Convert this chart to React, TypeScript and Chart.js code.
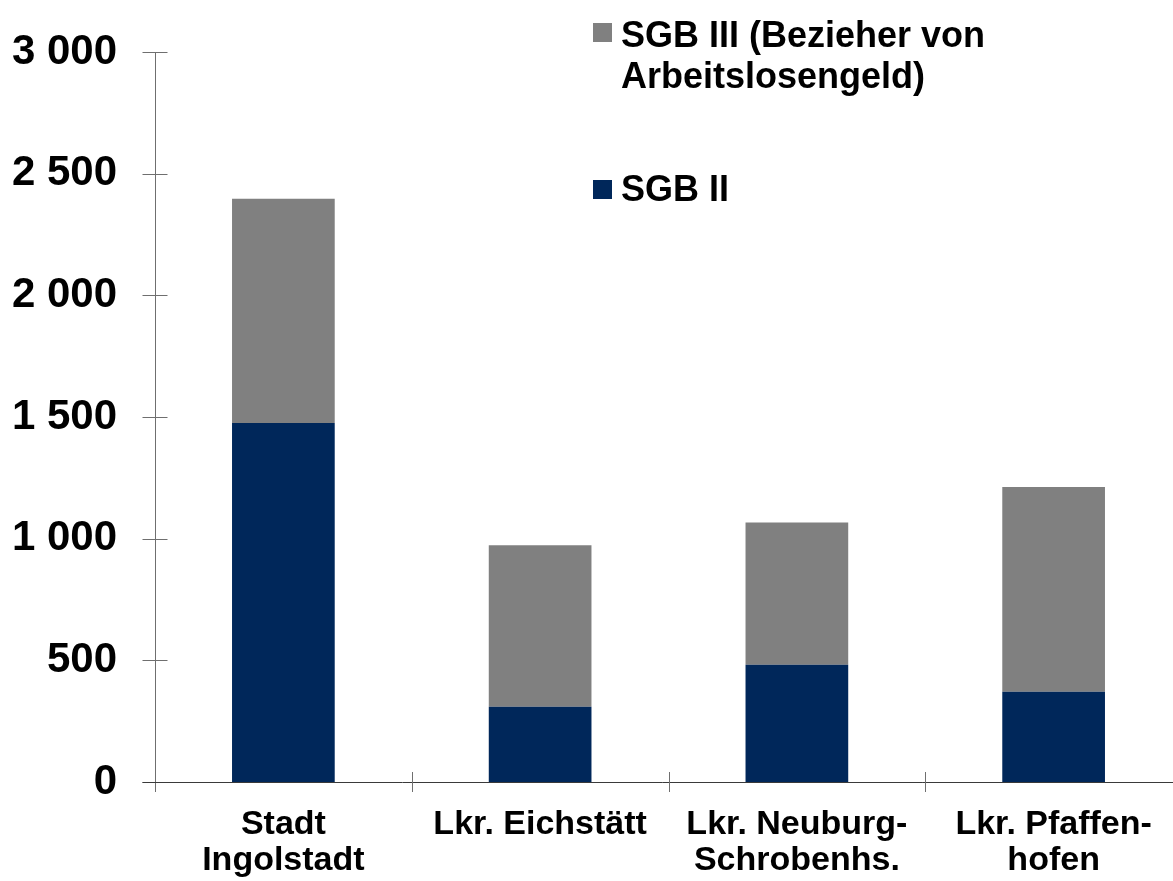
import React, { useEffect, useRef } from "react";
import { Chart, registerables } from "chart.js";

Chart.register(...registerables);

const categories: string[][] = [
  ["Stadt", "Ingolstadt"],
  ["Lkr. Eichstätt"],
  ["Lkr. Neuburg-", "Schrobenhs."],
  ["Lkr. Pfaffen-", "hofen"],
];
const sgb2Values = [1475, 309, 482, 371];
const sgb3Values = [922, 664, 584, 841];
const seriesNames = ["SGB II", "SGB III (Bezieher von Arbeitslosengeld)"];
const legendLines3 = ["SGB III (Bezieher von", "Arbeitslosengeld)"];
const legendLines2 = ["SGB II"];
const yTicks = [0, 500, 1000, 1500, 2000, 2500, 3000];

const NAVY = "#00275A";
const GREY = "#808080";
const FONT = "'Liberation Sans', Arial, sans-serif";

function fmt(v: number): string {
  if (v >= 1000) {
    const th = Math.floor(v / 1000);
    const rest = String(v % 1000).padStart(3, "0");
    return `${th} ${rest}`;
  }
  return String(v);
}

const axesPlugin = {
  id: "customAxes",
  afterDraw(chart: any) {
    const { ctx, chartArea } = chart;
    const { left, right, top, bottom } = chartArea;
    const x = chart.scales.x;
    const y = chart.scales.y;
    ctx.save();
    ctx.lineWidth = 1;
    const L = Math.round(left) + 0.5;
    const B = Math.round(bottom) + 0.5;
    // y axis
    ctx.strokeStyle = "#6f6f6f";
    ctx.beginPath();
    ctx.moveTo(L, top);
    ctx.lineTo(L, bottom + 10);
    ctx.stroke();
    yTicks.forEach((v) => {
      const yp = Math.round(y.getPixelForValue(v)) + 0.5;
      ctx.beginPath();
      ctx.moveTo(L - 13, yp);
      ctx.lineTo(L + 12, yp);
      ctx.stroke();
    });
    // x axis
    ctx.strokeStyle = "#3a3a3a";
    ctx.beginPath();
    ctx.moveTo(L - 13, B);
    ctx.lineTo(right, B);
    ctx.stroke();
    ctx.strokeStyle = "#6f6f6f";
    for (let i = 1; i < categories.length; i++) {
      const xp =
        Math.round((x.getPixelForTick(i - 1) + x.getPixelForTick(i)) / 2) + 0.5;
      ctx.beginPath();
      ctx.moveTo(xp, bottom - 10);
      ctx.lineTo(xp, bottom + 10);
      ctx.stroke();
    }
    ctx.restore();
  },
};

const legendPlugin = {
  id: "customLegend",
  afterDraw(chart: any) {
    const { ctx } = chart;
    ctx.save();
    ctx.font = `bold 36px ${FONT}`;
    ctx.fillStyle = "#000";
    ctx.textBaseline = "alphabetic";
    ctx.textAlign = "left";
    // SGB III
    ctx.fillStyle = GREY;
    ctx.fillRect(593, 23, 19, 19);
    ctx.fillStyle = "#000";
    legendLines3.forEach((t, i) => ctx.fillText(t, 621, 47 + i * 40.5));
    // SGB II
    ctx.fillStyle = NAVY;
    ctx.fillRect(593, 180, 19, 19);
    ctx.fillStyle = "#000";
    legendLines2.forEach((t, i) => ctx.fillText(t, 621, 201 + i * 40.5));
    ctx.restore();
  },
};

export default function App() {
  const ref = useRef<HTMLCanvasElement | null>(null);
  useEffect(() => {
    if (!ref.current) return;
    const chart = new Chart(ref.current, {
      type: "bar",
      data: {
        labels: categories as any,
        datasets: [
          {
            label: seriesNames[0],
            data: sgb2Values,
            backgroundColor: NAVY,
            borderWidth: 0,
          },
          {
            label: seriesNames[1],
            data: sgb3Values,
            backgroundColor: GREY,
            borderWidth: 0,
          },
        ],
      },
      options: {
        responsive: false,
        animation: false,
        layout: { padding: { top: 52, right: 3, left: 0, bottom: 0 } },
        plugins: {
          legend: { display: false },
          tooltip: { enabled: false },
        },
        datasets: {
          bar: { barPercentage: 1, categoryPercentage: 0.4 },
        },
        scales: {
          x: {
            stacked: true,
            grid: { display: false, drawTicks: false },
            border: { display: false },
            ticks: {
              color: "#000",
              font: { family: FONT, size: 34, weight: "bold", lineHeight: 1.06 },
              maxRotation: 0,
              minRotation: 0,
              autoSkip: false,
              padding: 25,
            },
            afterFit(scale: any) {
              scale.height = 99;
            },
          },
          y: {
            stacked: true,
            min: 0,
            max: 3000,
            grid: { display: false, drawTicks: false },
            border: { display: false },
            ticks: {
              stepSize: 500,
              color: "#000",
              font: { family: FONT, size: 42, weight: "bold" },
              padding: 38,
              callback: (v: any) => fmt(Number(v)),
            },
            afterFit(scale: any) {
              scale.width = 155;
              scale.paddingTop = 0;
              scale.paddingBottom = 0;
            },
          },
        },
      },
      plugins: [axesPlugin, legendPlugin],
    });
    return () => chart.destroy();
  }, []);
  return (
    <div
      style={{
        position: "absolute",
        left: 0,
        top: 0,
        width: 1173,
        height: 881,
        overflow: "hidden",
        background: "#fff",
      }}
    >
      <canvas ref={ref} width={1185} height={881} style={{ display: "block" }} />
    </div>
  );
}
